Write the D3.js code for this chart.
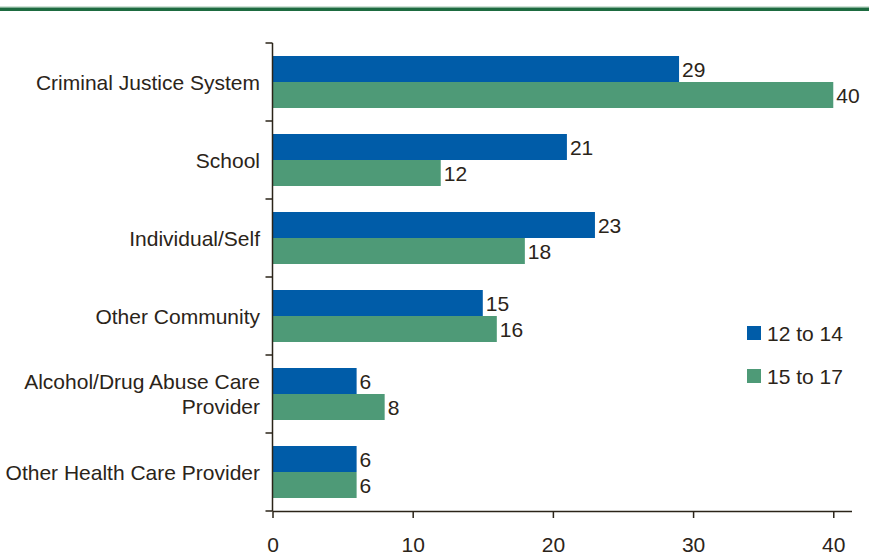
<!DOCTYPE html>
<html>
<head>
<meta charset="utf-8">
<script src="https://cdn.jsdelivr.net/npm/d3@7"></script>
<style>
  body { margin: 0; background: #fff; }
  svg { display: block; font-family: "Liberation Sans", Arial, sans-serif; }
</style>
</head>
<body>
<div id="chart"></div>
<script>
// Referral source by age group (percent)
const categories = [
    ['Criminal Justice System'],
    ['School'],
    ['Individual/Self'],
    ['Other Community'],
    ['Alcohol/Drug Abuse Care', 'Provider'],
    ['Other Health Care Provider']
];
const seriesNames = ['12 to 14', '15 to 17'];
const age12to14 = [29, 21, 23, 15, 6, 6];
const age15to17 = [40, 12, 18, 16, 8, 6];
const xTicks = [0, 10, 20, 30, 40];

const width = 869;
const height = 559;
const colors = ['#005ca8', '#4e9a77'];
const ink = '#2b2419';
const fontSize = '21px';

const svg = d3.select('#chart')
    .append('svg')
    .attr('width', width)
    .attr('height', height);

// Top rule
svg.append('rect').attr('x', 0).attr('y', 6).attr('width', width).attr('height', 1.5).attr('fill', '#cfe3d6');
svg.append('rect').attr('x', 0).attr('y', 7.5).attr('width', width).attr('height', 3.5).attr('fill', '#1d6b40');

const x = d3.scaleLinear().domain([0, 41.3]).range([272.5, 851.5]);
const y = d3.scaleBand().domain(d3.range(categories.length)).range([43, 511]);
const inner = d3.scaleBand().domain([0, 1]).range([13, 65]);

const rows = categories.map((c, i) => ({ i, label: c, values: [age12to14[i], age15to17[i]] }));

// Bars
const group = svg.append('g')
    .selectAll('g')
    .data(rows)
    .enter()
    .append('g')
    .attr('transform', d => `translate(0, ${y(d.i)})`);

group.selectAll('rect')
    .data(d => d.values.map((v, k) => ({ v, k })))
    .enter()
    .append('rect')
    .attr('x', x(0))
    .attr('y', d => inner(d.k))
    .attr('width', d => x(d.v) - x(0))
    .attr('height', inner.bandwidth())
    .attr('fill', d => colors[d.k]);

group.selectAll('text.val')
    .data(d => d.values.map((v, k) => ({ v, k })))
    .enter()
    .append('text')
    .attr('class', 'val')
    .attr('x', d => x(d.v) + 3)
    .attr('y', d => inner(d.k) + inner.bandwidth() / 2)
    .attr('dy', '0.36em')
    .style('font-size', fontSize)
    .style('fill', ink)
    .text(d => d.v);

// Category labels
const labels = svg.append('g')
    .selectAll('text')
    .data(rows)
    .enter()
    .append('text')
    .attr('x', 260)
    .attr('y', d => y(d.i) + y.bandwidth() / 2 - (d.label.length - 1) * 12.5)
    .attr('text-anchor', 'end')
    .style('font-size', fontSize)
    .style('fill', ink);

labels.selectAll('tspan')
    .data(d => d.label)
    .enter()
    .append('tspan')
    .attr('x', 260)
    .attr('dy', (d, i) => i === 0 ? '0.36em' : '25px')
    .text(d => d);

// Y axis
const yAxisG = svg.append('g');
yAxisG.append('line')
    .attr('x1', x(0)).attr('x2', x(0))
    .attr('y1', 43).attr('y2', 511)
    .attr('stroke', ink).attr('stroke-width', 1.5);
yAxisG.selectAll('line.tick')
    .data(d3.range(categories.length + 1))
    .enter()
    .append('line')
    .attr('class', 'tick')
    .attr('x1', x(0) - 7).attr('x2', x(0))
    .attr('y1', d => 43 + d * y.step())
    .attr('y2', d => 43 + d * y.step())
    .attr('stroke', ink).attr('stroke-width', 1.5);

// X axis
const xAxis = d3.axisBottom(x).tickValues(xTicks).tickSizeInner(7).tickSizeOuter(0).tickPadding(19);
const xg = svg.append('g')
    .attr('transform', `translate(0, 511)`)
    .call(xAxis);
xg.select('.domain').attr('stroke', ink).attr('stroke-width', 1.5);
xg.selectAll('.tick line').attr('stroke', ink).attr('stroke-width', 1.5);
xg.selectAll('.tick text')
    .style('font-size', fontSize)
    .style('font-family', '"Liberation Sans", Arial, sans-serif')
    .attr('fill', ink);

// Legend
const legend = svg.append('g').attr('transform', 'translate(747, 326)');
seriesNames.forEach((name, i) => {
    const row = legend.append('g').attr('transform', `translate(0, ${i * 43})`);
    row.append('rect').attr('width', 14).attr('height', 14).attr('fill', colors[i]);
    row.append('text')
        .attr('x', 20)
        .attr('y', 7)
        .attr('dy', '0.36em')
        .style('font-size', fontSize)
        .style('fill', ink)
        .text(name);
});
</script>
</body>
</html>
